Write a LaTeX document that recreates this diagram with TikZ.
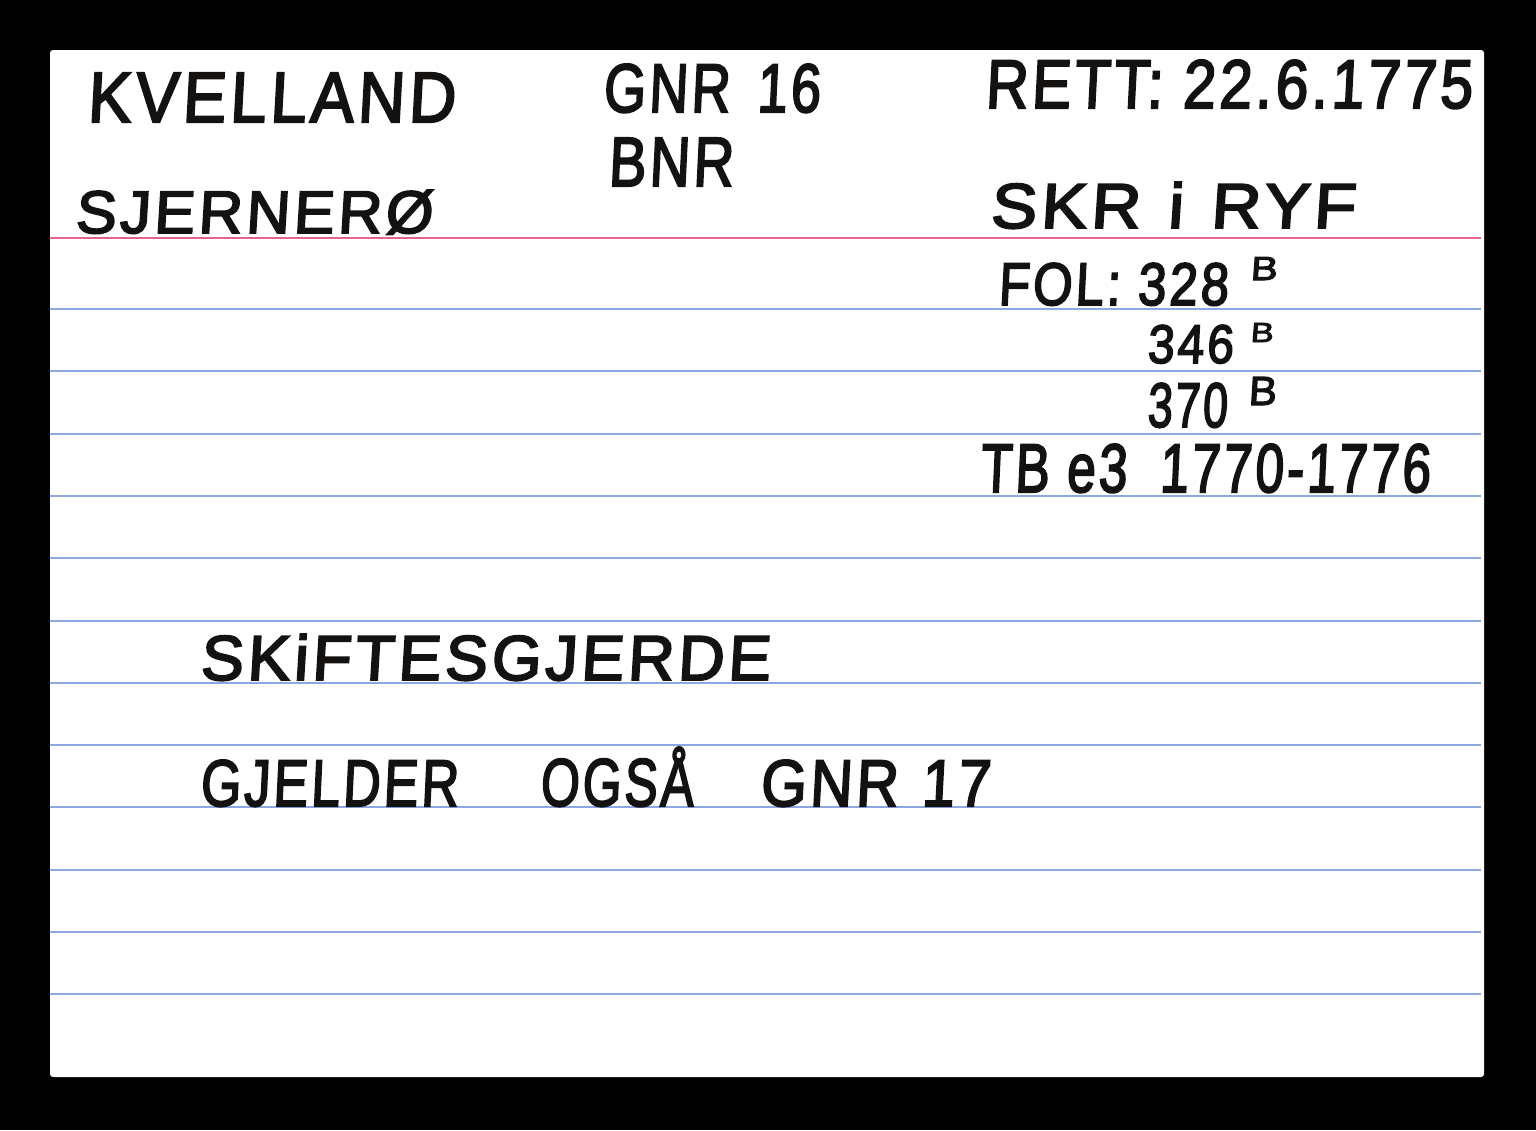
\documentclass[tikz,border=0pt]{standalone}
\usepackage{fontspec}
\usepackage{graphicx}
\newfontfamily\handfont{Liberation Sans}[FakeBold=3,FakeSlant=0.06,LetterSpace=6]
\newcommand{\handtext}[3]{\resizebox{#1pt}{#2pt}{\handfont #3}}
\definecolor{cardblue}{RGB}{140,168,225}
\definecolor{cardred}{RGB}{232,95,145}
\definecolor{ink}{RGB}{20,18,16}
\tikzset{
	rule/.style = {cardblue, line width = 1.5pt},
	hand/.style = {anchor = base west, inner sep = 0pt, text = ink}
}
\begin{document}
\begin{tikzpicture}[x = 1pt, y = -1pt]
		\fill[black] (0, 0) rectangle (1536, 1130);
		\fill[white, rounded corners = 3pt] (50, 50) rectangle (1484, 1077);
		\draw[cardred, line width = 1.5pt] (50, 238) -- (1481, 238);
		\draw[rule] (50, 309) -- (1481, 309);
		\draw[rule] (50, 371) -- (1481, 371);
		\draw[rule] (50, 434) -- (1481, 434);
		\draw[rule] (50, 496) -- (1481, 496);
		\draw[rule] (50, 558) -- (1481, 558);
		\draw[rule] (50, 621) -- (1481, 621);
		\draw[rule] (50, 683) -- (1481, 683);
		\draw[rule] (50, 745) -- (1481, 745);
		\draw[rule] (50, 807) -- (1481, 807);
		\draw[rule] (50, 870) -- (1481, 870);
		\draw[rule] (50, 932) -- (1481, 932);
		\draw[rule] (50, 994) -- (1481, 994);
		\node[hand] (kvelland) at (87, 122) {\handtext{368}{49}{KVELLAND}};
		\node[hand] (sjernero) at (75, 233) {\handtext{357}{43}{SJERNERØ}};
		\node[hand] (gnr) at (603, 112) {\handtext{217}{48}{GNR\hspace{0.5em}16}};
		\node[hand] (bnr) at (608, 186) {\handtext{125}{48}{BNR}};
		\node[hand] (rett) at (985, 108) {\handtext{487}{48}{RETT: 22.6.1775}};
		\node[hand] (skr) at (990, 228) {\handtext{365}{46}{SKR\hspace{0.4em}i\hspace{0.4em}RYF}};
		\node[hand] (fol) at (998, 305) {\handtext{230}{42}{FOL: 328}};
		\node[hand] (folb) at (1250, 280) {\handtext{27}{23}{B}};
		\node[hand] (fola) at (1147, 363) {\handtext{86}{38}{346}};
		\node[hand] (folab) at (1250, 342) {\handtext{23}{19}{B}};
		\node[hand] (folc) at (1147, 427) {\handtext{80}{44}{370}};
		\node[hand] (folcb) at (1248, 405) {\handtext{28}{28}{B}};
		\node[hand] (tb) at (980, 492) {\handtext{450}{48}{TB e3\hspace{0.3em} 1770-1776}};
		\node[hand] (skifte) at (200, 680) {\handtext{570}{46}{SKiFTESGJERDE}};
		\node[hand] (gjelder) at (200, 806) {\handtext{258}{46}{GJELDER}};
		\node[hand] (ogsa) at (540, 806) {\handtext{153}{59}{OGSÅ}};
		\node[hand] (gnrb) at (760, 806) {\handtext{230}{46}{GNR\hspace{0.4em}17}};
	\end{tikzpicture}
\end{document}
